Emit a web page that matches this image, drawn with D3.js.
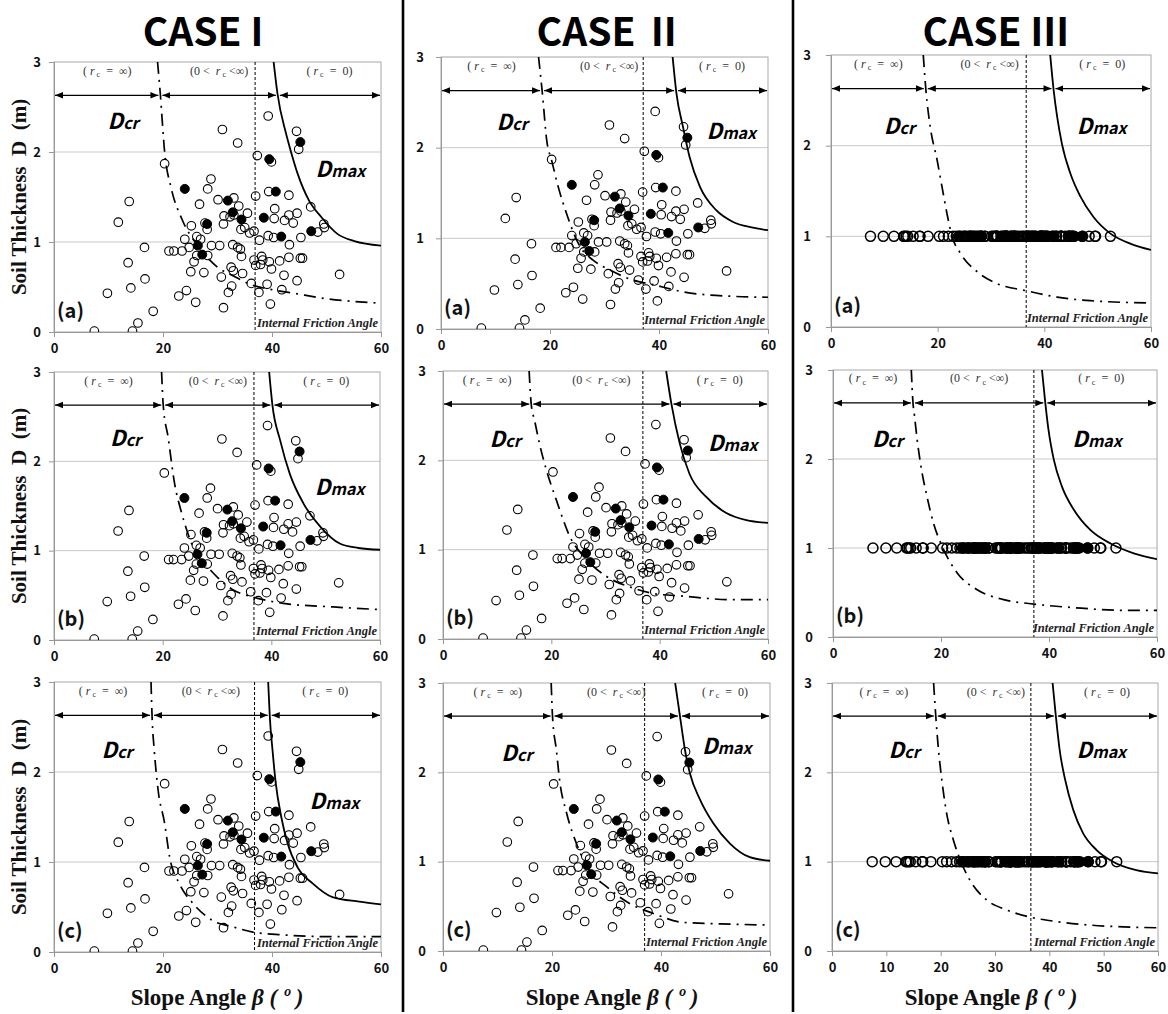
<!DOCTYPE html>
<html>
<head>
<meta charset="utf-8">
<script src="https://cdn.jsdelivr.net/npm/d3@7"></script>
<style>
  body { margin: 0; background: #fff; }
  svg { display: block; }
</style>
</head>
<body>
<svg id="chart" width="1168" height="1014"></svg>
<script>
// ---- Observed sites: [slope angle β (deg), soil thickness D (m)] ----
const openSites = [
  [7.4,0.01],[14.4,0.01],[15.4,0.10],[18.2,0.23],[9.8,0.43],[14.1,0.49],[13.6,0.77],[16.7,0.59],
  [16.6,0.94],[11.8,1.22],[13.8,1.45],[20.3,1.87],[30.9,2.25],[33.7,2.10],[39.3,2.40],[37.3,1.96],
  [44.5,2.23],[44.9,2.03],[39.9,1.89],[28.8,1.70],[28.2,1.59],[26.7,1.42],[30.1,1.47],[33.0,1.49],
  [33.9,1.40],[35.5,1.32],[37.0,1.51],[39.4,1.56],[40.5,1.37],[43.1,1.52],[44.6,1.32],[43.1,1.30],
  [42.3,1.24],[43.9,1.21],[47.1,1.39],[49.5,1.20],[49.6,1.16],[48.4,1.11],[45.3,1.05],[43.2,0.97],
  [40.3,1.05],[39.3,1.07],[37.7,1.02],[36.7,1.12],[35.9,1.10],[35.0,1.16],[34.3,1.14],[33.0,1.30],
  [32.3,1.28],[31.2,1.29],[31.1,1.20],[28.1,1.14],[27.7,1.21],[25.2,1.18],[24.0,1.03],[26.2,1.06],
  [26.9,1.03],[24.8,0.94],[23.5,0.90],[22.0,0.90],[21.1,0.90],[25.7,0.78],[26.2,0.85],[28.9,0.96],
  [30.4,0.96],[32.8,0.97],[33.7,0.94],[34.2,0.92],[34.4,0.84],[25.1,0.67],[27.5,0.66],[28.2,0.85],
  [32.5,0.72],[32.9,0.68],[34.6,0.65],[30.7,0.61],[32.6,0.51],[32.0,0.44],[36.7,0.80],[37.0,0.74],
  [38.1,0.84],[38.3,0.80],[37.9,0.75],[39.5,0.78],[39.9,0.70],[41.4,0.79],[43.1,0.83],[45.2,0.82],
  [45.6,0.82],[42.2,0.63],[44.6,0.57],[41.8,0.47],[39.1,0.53],[37.6,0.44],[36.2,0.54],[39.7,0.31],
  [31.1,0.27],[26.0,0.33],[24.3,0.46],[22.9,0.40],[52.4,0.64],[40.4,1.26]
];
const failedSites = [
  [24.0,1.59],[31.9,1.46],[32.8,1.33],[34.4,1.25],[28.1,1.20],[26.4,0.96],[27.2,0.86],
  [38.5,1.27],[39.5,1.92],[40.7,1.56],[41.7,1.06],[45.2,2.11],[47.2,1.12]
];
// CASE III assumes one uniform soil thickness for every site
const uniformThickness = 1;

// ---- Axis ticks and text ----
const xTicks = [0, 20, 40, 60];
const xTicksFine = [0, 10, 20, 30, 40, 50, 60];
const yTicks = [0, 1, 2, 3];
const caseTitles = ["CASE I", "CASE \u2161", "CASE \u2162"];
const rowTags = ["(a)", "(b)", "(c)"];

// ---- Internal friction angle φ (deg) per panel [a, b, c] ----
const frictionCaseI = [36.9, 36.8, 36.8];
const frictionCaseII = [37.1, 36.9, 37.0];
const frictionCaseIII = [36.6, 37.2, 36.6];

// ---- Critical thickness Dcr curves [β, D] ----
const dcrCaseI = [
  [[19.0,3.0],[19.5,2.65],[20.3,2.0],[21.5,1.6],[23.5,1.25],[26.5,0.95],[30.0,0.72],[33.0,0.62],[36.0,0.53],[40.0,0.47],[44.0,0.43],[50.0,0.37],[55.0,0.34],[60.0,0.32]],
  [[19.8,3.0],[20.1,2.63],[21.0,2.27],[22.2,1.75],[23.5,1.42],[25.6,1.04],[29.3,0.75],[33.0,0.56],[36.7,0.48],[42.2,0.41],[51.4,0.37],[60.0,0.34]],
  [[17.8,3.0],[18.0,2.61],[18.4,2.24],[19.1,1.80],[20.3,1.43],[21.2,1.06],[23.0,0.76],[25.5,0.54],[29.1,0.35],[32.8,0.28],[36.5,0.22],[42.0,0.19],[51.1,0.17],[60.0,0.17]]
];
const dcrCaseII = [
  [[17.9,3.0],[18.6,2.6],[19.4,2.08],[20.3,1.86],[21.5,1.57],[23.0,1.28],[25.5,0.91],[27.9,0.76],[31.0,0.65],[35.2,0.54],[38.9,0.49],[44.4,0.41],[53.6,0.36],[60.0,0.35]],
  [[15.9,3.0],[16.3,2.62],[16.9,2.45],[17.8,2.19],[19.1,1.89],[20.9,1.56],[23.4,1.15],[26.5,0.89],[30.2,0.70],[35.1,0.57],[38.8,0.51],[44.3,0.48],[53.5,0.44],[60.0,0.44]],
  [[19.85,3.0],[20.1,2.62],[20.8,2.25],[21.4,1.91],[22.7,1.54],[24.5,1.2],[26.9,0.9],[30.0,0.72],[34.3,0.53],[38.6,0.42],[44.1,0.32],[53.3,0.30],[60.0,0.29]]
];
const dcrCaseIII = [
  [[17.3,3.0],[17.8,2.61],[18.6,2.21],[19.9,1.84],[20.8,1.55],[21.75,1.25],[22.7,1.0],[24.3,0.81],[27.4,0.61],[31.1,0.48],[36.6,0.40],[42.4,0.33],[48.6,0.29],[60.0,0.265]],
  [[14.5,3.0],[14.8,2.64],[15.1,2.48],[15.6,2.21],[16.2,1.95],[17.4,1.58],[18.6,1.28],[20.2,1.02],[23.0,0.72],[26.7,0.53],[31.6,0.42],[37.2,0.37],[44.6,0.33],[53.8,0.30],[60.0,0.30]],
  [[18.7,3.0],[19.1,2.63],[19.6,2.25],[20.2,1.92],[21.1,1.54],[22.35,1.24],[23.6,1.02],[25.4,0.79],[28.5,0.57],[32.1,0.46],[36.4,0.38],[41.3,0.33],[47.5,0.29],[53.6,0.27],[60.0,0.26]]
];

// ---- Maximum thickness Dmax curves [β, D] ----
const dmaxCaseI = [
  [[40.3,3.0],[41.0,2.65],[42.6,2.2],[43.4,2.02],[44.7,1.76],[46.8,1.46],[49.0,1.28],[52.0,1.09],[55.1,1.01],[60.0,0.96]],
  [[39.6,3.0],[40.2,2.63],[41.6,2.24],[43.4,1.86],[45.9,1.53],[49.0,1.27],[52.6,1.08],[56.0,1.03],[60.0,1.01]],
  [[39.3,3.0],[39.6,2.61],[40.1,2.24],[40.7,1.87],[41.7,1.5],[42.9,1.2],[44.7,0.94],[47.5,0.76],[51.1,0.61],[56.0,0.56],[60.0,0.53]]
];
const dmaxCaseII = [
  [[42.5,3.0],[43.2,2.6],[44.4,2.23],[45.6,1.9],[47.5,1.57],[50.5,1.31],[53.6,1.18],[57.0,1.12],[60.0,1.09]],
  [[41.2,3.0],[42.2,2.62],[43.7,2.19],[45.5,1.85],[48.6,1.59],[52.3,1.41],[56.0,1.33],[60.0,1.30]],
  [[42.6,3.0],[43.5,2.62],[44.4,2.25],[45.3,1.99],[47.2,1.69],[49.6,1.43],[52.7,1.2],[56.3,1.05],[60.0,1.01]]
];
const dmaxCaseIII = [
  [[41.1,3.0],[41.75,2.61],[42.4,2.32],[43.3,2.02],[44.9,1.69],[46.75,1.44],[49.25,1.21],[52.4,1.03],[56.1,0.92],[60.0,0.85]],
  [[38.7,3.0],[39.3,2.64],[39.9,2.33],[40.9,1.99],[42.4,1.69],[44.6,1.43],[47.7,1.2],[51.4,1.05],[55.7,0.94],[60.0,0.875]],
  [[40.6,3.0],[41.2,2.63],[41.9,2.25],[42.9,1.92],[44.4,1.58],[46.2,1.32],[48.7,1.13],[51.7,1.0],[56.0,0.905],[60.0,0.87]]
];

// Level (m) of the regime arrows and of their captions
const arrowLevel = 2.63;
const captionLevel = 2.86;

// ---- Page layout (pixel boxes of each plot area, label anchors in data units) ----
const layout = {
  boxes: [
    [[54,62,381,332],[54,372,380,640],[54,682,381,952]],
    [[441,57,768,329],[443,371,768,639],[443,683,770,951]],
    [[831,55,1151,327],[833,370,1157,637],[832,683,1158,951]]
  ],
  dcrLabel: [
    [[9.8,2.26],[10.3,2.17],[8.7,2.16]],
    [[10.2,2.19],[8.6,2.15],[10.7,2.13]],
    [[9.9,2.13],[7.2,2.14],[10.4,2.16]]
  ],
  dmaxLabel: [
    [[48,1.72],[48,1.62],[46.9,1.59]],
    [[48.7,2.10],[48.9,2.11],[47.5,2.21]],
    [[46.1,2.13],[44.3,2.14],[45,2.16]]
  ],
  titleX: [203, 610, 996],
  xLabelX: [217, 612, 991],
  yTickPad: [8, 12, 15],
  dividers: [403, 793]
};

const cases = [
  { dcr: dcrCaseI,   dmax: dmaxCaseI,   phi: frictionCaseI,   uniform: false },
  { dcr: dcrCaseII,  dmax: dmaxCaseII,  phi: frictionCaseII,  uniform: false },
  { dcr: dcrCaseIII, dmax: dmaxCaseIII, phi: frictionCaseIII, uniform: true }
];

const sans = "'Noto Sans CJK KR', 'Noto Sans', sans-serif";
const serif = "'Liberation Serif', 'DejaVu Serif', serif";

const svg = d3.select("#chart");
const defs = svg.append("defs");
defs.append("marker")
  .attr("id", "arrowHead")
  .attr("viewBox", "0 -4 8 8")
  .attr("refX", 8).attr("refY", 0)
  .attr("markerWidth", 8).attr("markerHeight", 8)
  .attr("markerUnits", "userSpaceOnUse")
  .attr("orient", "auto-start-reverse")
  .append("path").attr("d", "M0,-3.3L8,0L0,3.3Z").attr("fill", "#000");

// β where a curve crosses a given thickness level (linear between samples)
function crossingAt(curve, level) {
  for (let i = 0; i < curve.length - 1; i++) {
    const [xa, ya] = curve[i], [xb, yb] = curve[i + 1];
    if ((ya - level) * (yb - level) <= 0) {
      return xa + (level - ya) / (yb - ya) * (xb - xa);
    }
  }
  return curve[0][0];
}

function regionCaption(sel, kind) {
  sel.append("tspan").text(kind === 1 ? "(0 <  " : "( ");
  sel.append("tspan").attr("font-style", "italic").text("r");
  sel.append("tspan").attr("font-size", 8).attr("dy", 2.5).text(" c");
  if (kind === 0) sel.append("tspan").attr("dy", -2.5).text("  =  \u221E)");
  if (kind === 1) sel.append("tspan").attr("dy", -2.5).text(" <\u221E)");
  if (kind === 2) sel.append("tspan").attr("dy", -2.5).text("  =  0)");
}

cases.forEach((cs, ci) => {
  rowTags.forEach((tag, ri) => {
    const [bx0, by0, bx1, by1] = layout.boxes[ci][ri];
    const x = d3.scaleLinear().domain([0, 60]).range([bx0, bx1]);
    const y = d3.scaleLinear().domain([0, 3]).range([by1, by0]);
    const g = svg.append("g");
    const clipId = `clip-${ci}-${ri}`;
    defs.append("clipPath").attr("id", clipId)
      .append("rect").attr("x", bx0).attr("y", by0 - 1)
      .attr("width", bx1 - bx0).attr("height", by1 - by0 + 1);

    // horizontal gridlines
    g.selectAll("line.grid").data(yTicks.filter(t => t > 0 && t < 3)).join("line")
      .attr("class", "grid")
      .attr("x1", bx0).attr("x2", bx1)
      .attr("y1", d => y(d)).attr("y2", d => y(d))
      .attr("stroke", "#c9c9c9").attr("stroke-width", 1);

    // plot frame
    g.append("rect").attr("x", bx0).attr("y", by0)
      .attr("width", bx1 - bx0).attr("height", by1 - by0)
      .attr("fill", "none").attr("stroke", "#a8a8a8").attr("stroke-width", 1);

    // axes
    const xAxis = g.append("g").attr("transform", `translate(0,${by1})`)
      .call(d3.axisBottom(x).tickValues(ci === 2 && ri === 2 ? xTicksFine : xTicks)
        .tickSize(5).tickPadding(7).tickFormat(d3.format("d")));
    const yAxis = g.append("g").attr("transform", `translate(${bx0},0)`)
      .call(d3.axisLeft(y).tickValues(yTicks).tickSize(5)
        .tickPadding(layout.yTickPad[ci]).tickFormat(d3.format("d")));
    [xAxis, yAxis].forEach(a => {
      a.select(".domain").attr("stroke", "#999");
      a.selectAll(".tick line").attr("stroke", "#999");
      a.selectAll(".tick text").attr("font-family", sans).attr("font-weight", 700)
        .attr("font-size", 13).attr("fill", "#111");
    });

    const plot = g.append("g").attr("clip-path", `url(#${clipId})`);

    // observed sites (CASE III markers drawn heavier, as all sit on one line)
    const depthOf = d => cs.uniform ? uniformThickness : d[1];
    const rOpen = cs.uniform ? 5 : 4.3;
    const wOpen = cs.uniform ? 1.5 : 1.1;
    plot.selectAll("circle.open").data(openSites).join("circle")
      .attr("class", "open")
      .attr("cx", d => x(d[0])).attr("cy", d => y(depthOf(d))).attr("r", rOpen)
      .attr("fill", "none").attr("stroke", "#000").attr("stroke-width", wOpen);
    plot.selectAll("circle.failed").data(failedSites).join("circle")
      .attr("class", "failed")
      .attr("cx", d => x(d[0])).attr("cy", d => y(depthOf(d))).attr("r", rOpen + 0.2)
      .attr("fill", "#000").attr("stroke", "#000").attr("stroke-width", 1);

    // internal friction angle
    const phi = cs.phi[ri];
    plot.append("line")
      .attr("x1", x(phi)).attr("x2", x(phi)).attr("y1", by0).attr("y2", by1)
      .attr("stroke", "#000").attr("stroke-width", 1).attr("stroke-dasharray", "3,2");

    // Dcr and Dmax curves
    const line = d3.line().x(d => x(d[0])).y(d => y(d[1])).curve(d3.curveMonotoneX);
    const dcr = cs.dcr[ri], dmax = cs.dmax[ri];
    plot.append("path").attr("d", line(dcr))
      .attr("fill", "none").attr("stroke", "#000").attr("stroke-width", 1.7)
      .attr("stroke-dasharray", "12,6,2,6");
    plot.append("path").attr("d", line(dmax))
      .attr("fill", "none").attr("stroke", "#000").attr("stroke-width", 1.8);

    // regime arrows
    const b1 = crossingAt(dcr, arrowLevel), b2 = crossingAt(dmax, arrowLevel);
    const ay = y(arrowLevel);
    const spans = [[0, b1], [b1, b2], [b2, 60]];
    spans.forEach(([s, e], k) => {
      g.append("line")
        .attr("x1", x(s) + (k === 0 ? 1 : 2)).attr("x2", x(e) - (k === 2 ? 1 : 2))
        .attr("y1", ay).attr("y2", ay)
        .attr("stroke", "#000").attr("stroke-width", 1.3)
        .attr("marker-start", "url(#arrowHead)").attr("marker-end", "url(#arrowHead)");
      g.append("text")
        .attr("x", x((s + e) / 2)).attr("y", y(captionLevel))
        .attr("text-anchor", "middle").attr("font-family", serif)
        .attr("font-size", 12).attr("fill", "#333")
        .attr("xml:space", "preserve")
        .call(sel => regionCaption(sel, k));
    });

    // curve labels
    const [lx, ly] = layout.dcrLabel[ci][ri];
    const tDcr = g.append("text").attr("x", x(lx)).attr("y", y(ly))
      .attr("font-family", sans).attr("font-weight", 700).attr("font-style", "italic");
    tDcr.append("tspan").attr("font-size", 22).text("D");
    tDcr.append("tspan").attr("font-size", 16).text("cr");
    const [mx, my] = layout.dmaxLabel[ci][ri];
    const tDmax = g.append("text").attr("x", x(mx)).attr("y", y(my))
      .attr("font-family", sans).attr("font-weight", 700).attr("font-style", "italic");
    tDmax.append("tspan").attr("font-size", 22).text("D");
    tDmax.append("tspan").attr("font-size", 16).text("max");

    // panel tag and φ note
    g.append("text").attr("x", bx0 + 3).attr("y", by1 - 14)
      .attr("font-family", sans).attr("font-weight", 700).attr("font-size", 20)
      .attr("fill", "#111").text(tag);
    g.append("text").attr("x", bx1 - 3).attr("y", by1 - 5)
      .attr("text-anchor", "end").attr("font-family", serif)
      .attr("font-weight", 700).attr("font-style", "italic").attr("font-size", 12.5)
      .attr("fill", "#222").text("Internal Friction Angle");

    // y-axis title on the first column only
    if (ci === 0) {
      const cy = (by0 + by1) / 2;
      g.append("text").attr("transform", `translate(26,${cy}) rotate(-90)`)
        .attr("text-anchor", "middle").attr("font-family", serif)
        .attr("font-weight", 700).attr("font-size", 21).attr("fill", "#111")
        .attr("xml:space", "preserve")
        .text("Soil Thickness  D  (m)");
    }
  });

  // case title
  svg.append("text").attr("x", layout.titleX[ci]).attr("y", 45.5)
    .attr("text-anchor", "middle").attr("font-family", sans)
    .attr("font-weight", 700).attr("font-size", 39).attr("fill", "#000")
    .text(caseTitles[ci]);

  // x-axis title
  const xt = svg.append("text").attr("x", layout.xLabelX[ci]).attr("y", 1005)
    .attr("text-anchor", "middle").attr("font-family", serif)
    .attr("font-weight", 700).attr("font-size", 23).attr("fill", "#111")
    .attr("xml:space", "preserve");
  xt.append("tspan").text("Slope Angle ");
  xt.append("tspan").attr("font-style", "italic").text("\u03B2 ( \u00BA )");
});

// column separators
svg.selectAll("line.divider").data(layout.dividers).join("line")
  .attr("class", "divider")
  .attr("x1", d => d).attr("x2", d => d).attr("y1", 0).attr("y2", 1012)
  .attr("stroke", "#000").attr("stroke-width", 2.6);
</script>
</body>
</html>
